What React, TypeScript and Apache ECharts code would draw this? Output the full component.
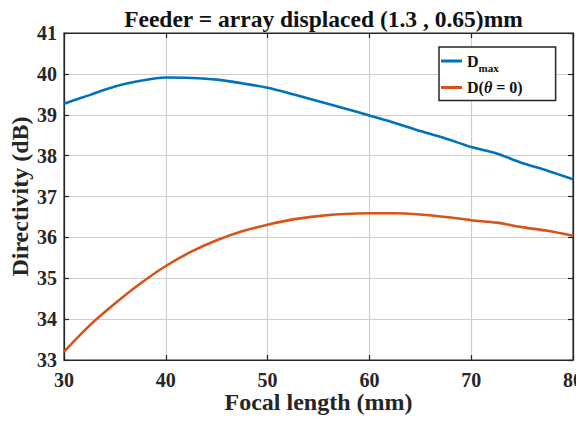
import React, { useEffect, useRef } from "react";
import * as echarts from "echarts";

const focal = [30, 32.5, 35, 37.5, 40, 42.5, 45, 47.5, 50, 52.5, 55, 57.5, 60, 62.5, 65, 67.5, 70, 72.5, 75, 77.5, 80];
const dMax = [39.27, 39.48, 39.69, 39.83, 39.91, 39.9, 39.86, 39.77, 39.66, 39.5, 39.33, 39.16, 38.98, 38.8, 38.6, 38.42, 38.21, 38.05, 37.82, 37.63, 37.42];
const dZero = [33.2, 33.84, 34.38, 34.87, 35.3, 35.65, 35.93, 36.15, 36.31, 36.44, 36.52, 36.57, 36.59, 36.59, 36.56, 36.5, 36.42, 36.36, 36.25, 36.16, 36.04];

const FONT = "'Liberation Serif', 'Times New Roman', serif";

export default function App() {
  const ref = useRef<HTMLDivElement>(null);
  useEffect(() => {
    if (!ref.current) return;
    const chart = echarts.init(ref.current, null, { renderer: "svg" });
    const axisText = { fontFamily: FONT, fontWeight: "bold" as const, fontSize: 20, color: "#262626" };
    chart.setOption({
      animation: false,
      backgroundColor: "#fff",
      title: {
        text: "Feeder = array displaced (1.3 , 0.65)mm",
        left: 318.5,
        textAlign: "center",
        top: 2,
        textStyle: { fontFamily: FONT, fontWeight: "bold", fontSize: 23.5, color: "#111" },
      },
      grid: {
        left: 64,
        right: 11,
        top: 33,
        bottom: 63,
        containLabel: false,
        outerBoundsMode: "none",
        show: true,
        borderColor: "#262626",
        borderWidth: 1.2,
      },
      legend: {
        orient: "vertical",
        left: 439,
        top: 47,
        padding: [6, 33, 5, 2],
        itemGap: 6,
        itemWidth: 21,
        itemHeight: 3,
        icon: "rect",
        borderColor: "#262626",
        borderWidth: 1.5,
        backgroundColor: "#fff",
        data: ["Dmax", "D0"],
        formatter: (name: string) =>
          name === "Dmax" ? "{b|D}{s|max}" : "{b|D(}{i|θ}{b| = 0)}",
        textStyle: {
          rich: {
            b: { fontFamily: FONT, fontWeight: "bold", fontSize: 16, color: "#111" },
            s: { fontFamily: FONT, fontWeight: "bold", fontSize: 11, color: "#111", padding: [14, 0, 0, 0] },
            i: { fontFamily: FONT, fontWeight: "bold", fontStyle: "italic", fontSize: 16, color: "#111" },
          },
        },
      },
      xAxis: [
        {
          type: "value",
          min: 30,
          max: 80,
          interval: 10,
          name: "Focal length (mm)",
          nameLocation: "middle",
          nameGap: 30,
          nameMoveOverlap: false,
          nameTextStyle: { fontFamily: FONT, fontWeight: "bold", fontSize: 24, color: "#262626" },
          axisLine: { show: true, lineStyle: { color: "#262626", width: 1.2 } },
          axisTick: { show: true, inside: true, length: 5, lineStyle: { color: "#262626", width: 1.2 } },
          axisLabel: { ...axisText, margin: 10 },
          splitLine: { show: true, lineStyle: { color: "#cfcfcf", width: 1.2 } },
        },
        {
          type: "value",
          position: "top",
          min: 30,
          max: 80,
          interval: 10,
          axisLine: { show: true, lineStyle: { color: "#262626", width: 1.2 } },
          axisTick: { show: true, inside: true, length: 5, lineStyle: { color: "#262626", width: 1.2 } },
          axisLabel: { show: false },
          splitLine: { show: false },
        },
      ],
      yAxis: [
        {
          type: "value",
          min: 33,
          max: 41,
          interval: 1,
          name: "Directivity (dB)",
          nameLocation: "middle",
          nameGap: 32,
          nameMoveOverlap: false,
          nameTextStyle: { fontFamily: FONT, fontWeight: "bold", fontSize: 24, color: "#262626" },
          axisLine: { show: true, lineStyle: { color: "#262626", width: 1.2 } },
          axisTick: { show: true, inside: true, length: 5, lineStyle: { color: "#262626", width: 1.2 } },
          axisLabel: { ...axisText, margin: 7 },
          splitLine: { show: true, lineStyle: { color: "#cfcfcf", width: 1.2 } },
        },
        {
          type: "value",
          position: "right",
          min: 33,
          max: 41,
          interval: 1,
          axisLine: { show: true, lineStyle: { color: "#262626", width: 1.2 } },
          axisTick: { show: true, inside: true, length: 5, lineStyle: { color: "#262626", width: 1.2 } },
          axisLabel: { show: false },
          splitLine: { show: false },
        },
      ],
      series: [
        {
          name: "Dmax",
          type: "line",
          data: focal.map((f, i) => [f, dMax[i]]),
          smooth: 0.3,
          showSymbol: false,
          symbol: "none",
          lineStyle: { color: "#0072BD", width: 2.6 },
          itemStyle: { color: "#0072BD" },
        },
        {
          name: "D0",
          type: "line",
          data: focal.map((f, i) => [f, dZero[i]]),
          smooth: 0.3,
          showSymbol: false,
          symbol: "none",
          lineStyle: { color: "#D95319", width: 2.6 },
          itemStyle: { color: "#D95319" },
        },
      ],
    });
    return () => chart.dispose();
  }, []);
  return <div ref={ref} style={{ width: 584, height: 423, margin: -8 }} />;
}
